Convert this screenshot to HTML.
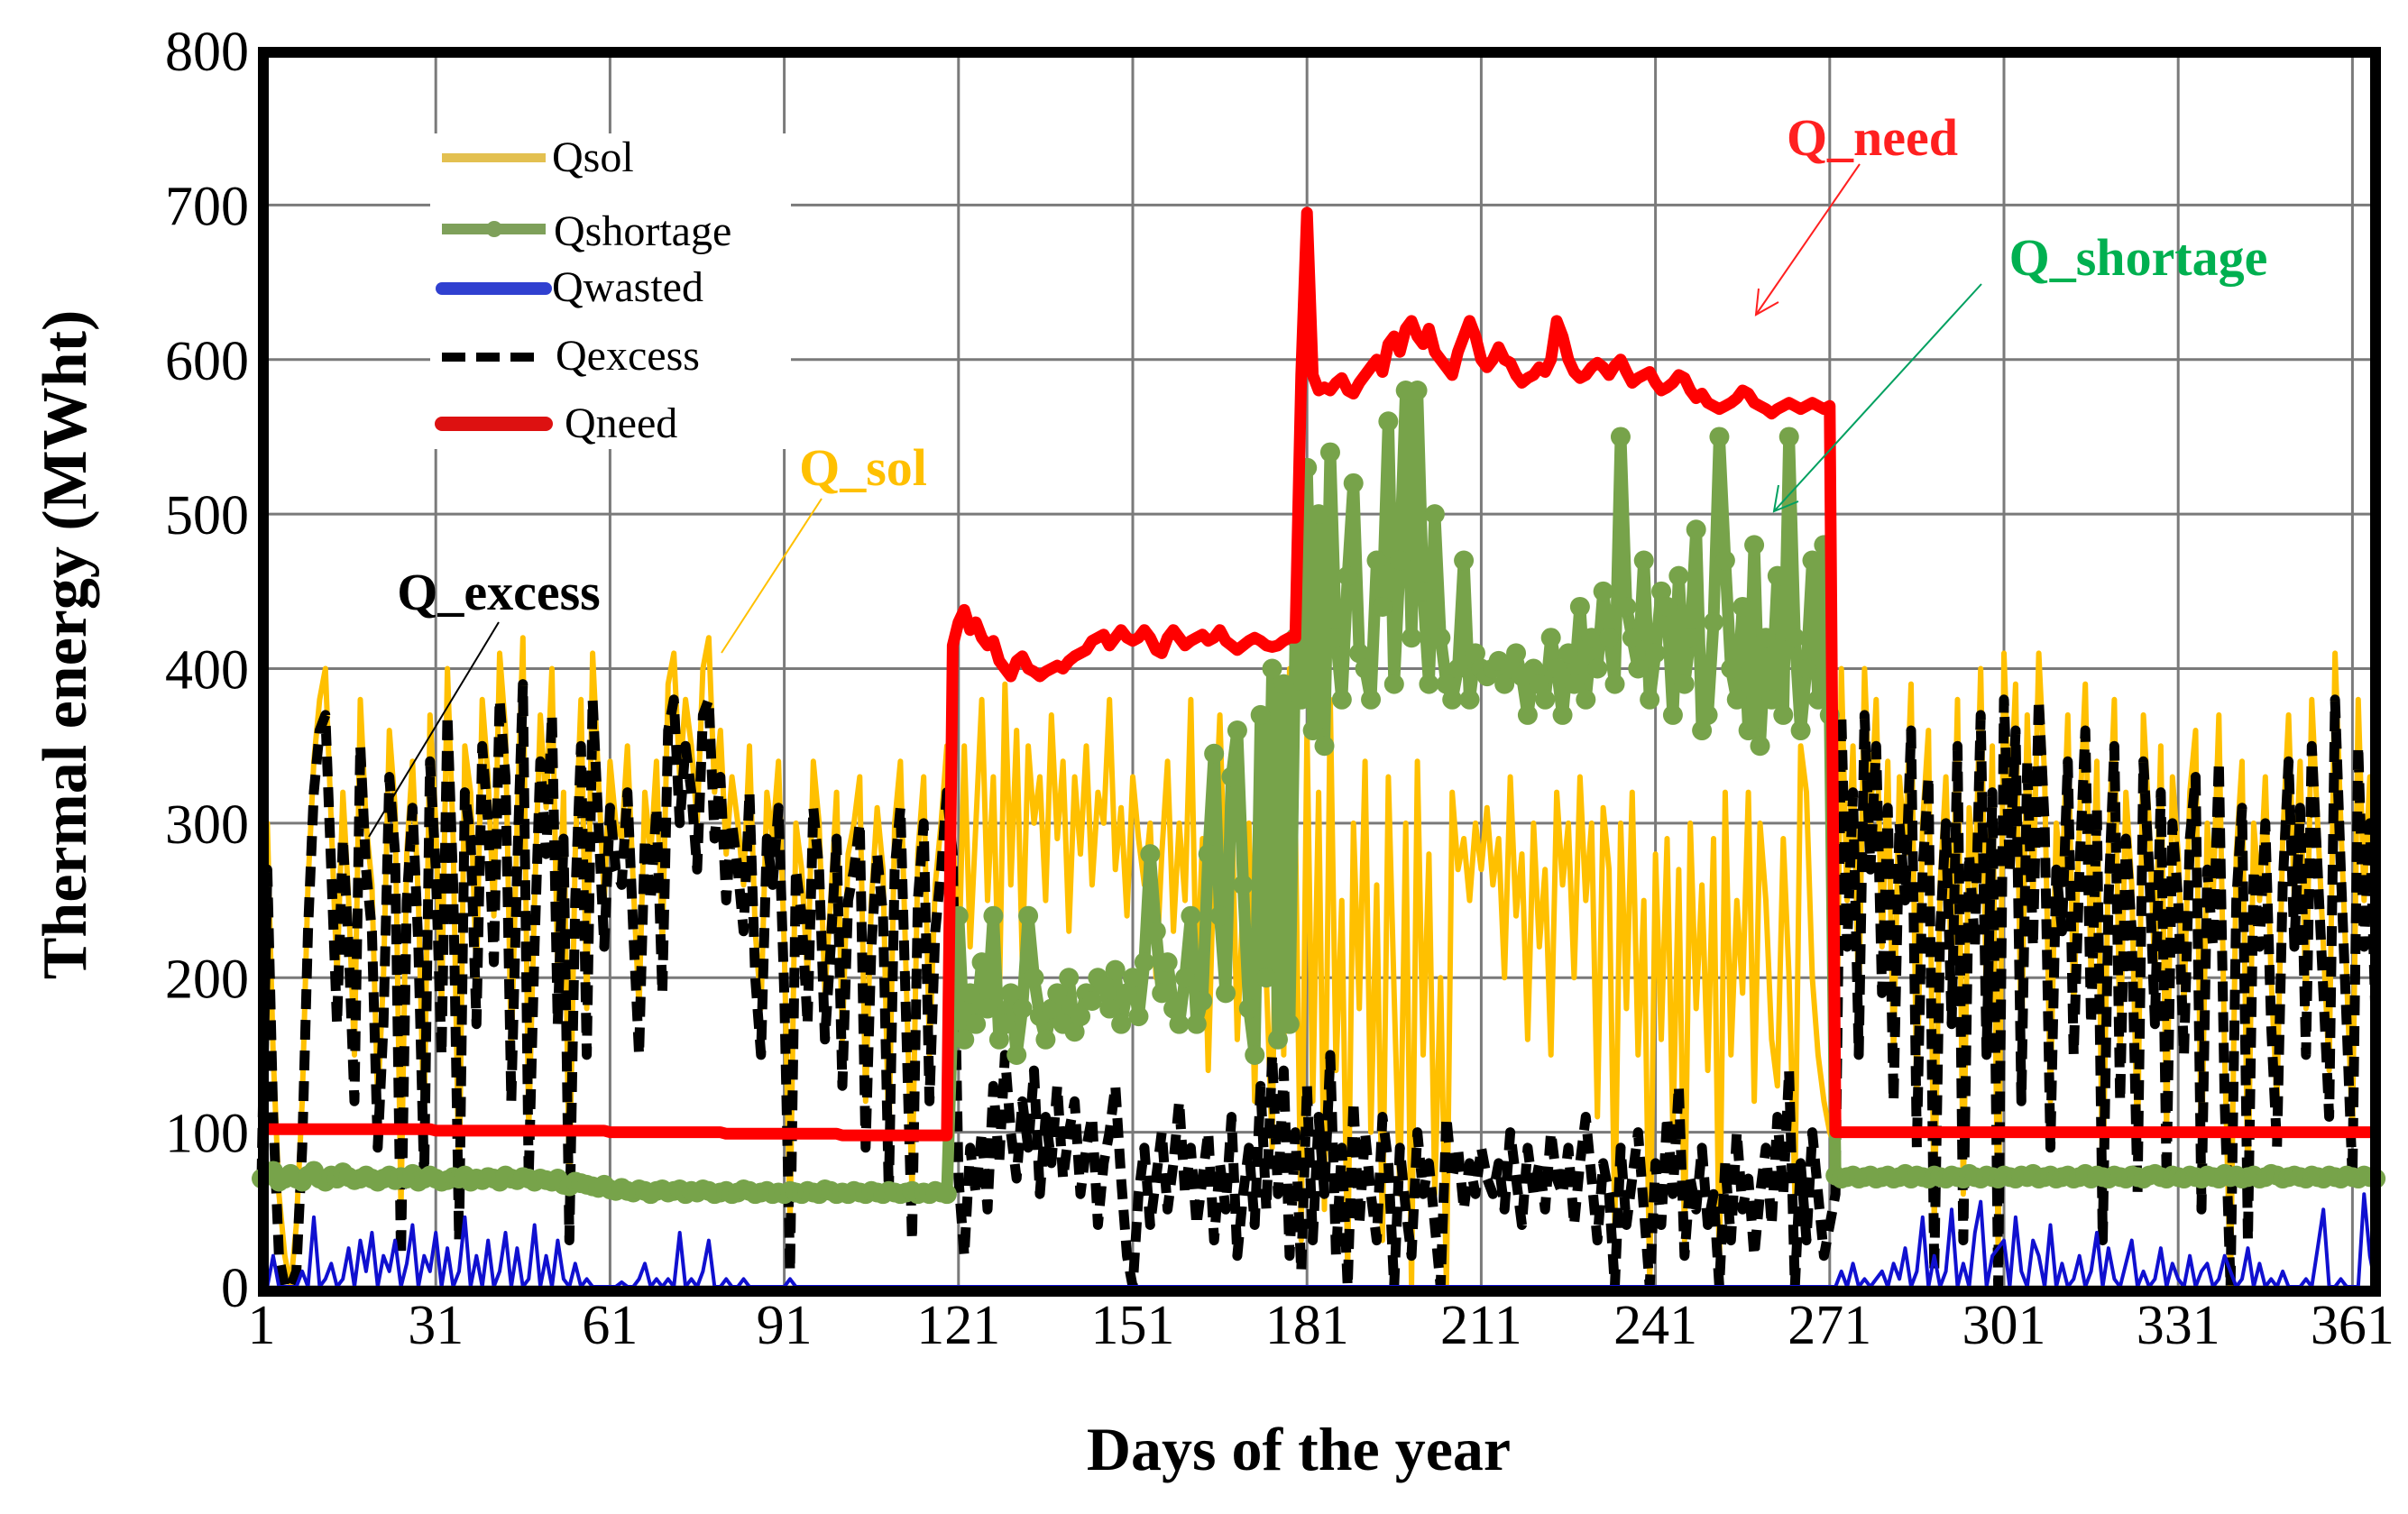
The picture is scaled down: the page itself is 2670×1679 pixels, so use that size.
<!DOCTYPE html>
<html><head><meta charset="utf-8">
<style>
html,body{margin:0;padding:0;background:#fff;}
svg{display:block;font-family:"Liberation Serif",serif;}
</style></head>
<body>
<svg id="chart" width="2670" height="1679" viewBox="0 0 2670 1679" xmlns="http://www.w3.org/2000/svg">
<rect x="0" y="0" width="2670" height="1679" fill="#fff"/>
<g id="grid"></g>
<g id="series"></g>
<rect x="292" y="58" width="2342" height="1374" fill="none" stroke="#000" stroke-width="12"/>
<g id="ticks" font-size="62" fill="#000"></g>
<text transform="translate(95,715) rotate(-90)" text-anchor="middle" font-size="70" font-weight="bold">Thermal energy (MWht)</text>
<text x="1440" y="1630" text-anchor="middle" font-size="68" font-weight="bold">Days of the year</text>

<g>
<rect x="477" y="148" width="400" height="350" fill="#fff"/>
<g><line x1="490" y1="175" x2="605" y2="175" stroke="#e3c050" stroke-width="10"/><text x="612" y="190" font-size="48">Qsol</text></g>
<g><line x1="490" y1="254" x2="605" y2="254" stroke="#7ea05a" stroke-width="12"/><circle cx="548" cy="254" r="9" fill="#7ea05a"/><text x="614" y="272" font-size="48">Qshortage</text></g>
<g><line x1="490" y1="320" x2="605" y2="320" stroke="#3040d0" stroke-width="14" stroke-linecap="round"/><text x="612" y="334" font-size="48">Qwasted</text></g>
<g><line x1="490" y1="396" x2="600" y2="396" stroke="#000" stroke-width="10" stroke-dasharray="26,12"/><text x="616" y="410" font-size="48">Qexcess</text></g>
<g><line x1="490" y1="470" x2="605" y2="470" stroke="#dd1111" stroke-width="16" stroke-linecap="round"/><text x="626" y="485" font-size="48">Qneed</text></g>
</g>

<g font-weight="bold">
<text x="2076" y="172" text-anchor="middle" font-size="58" fill="#ff2020">Q_need</text>
<line x1="2062" y1="182" x2="1947" y2="349" stroke="#ff2020" stroke-width="2"/>
<polyline points="1950,320 1947,349 1972,335" fill="none" stroke="#ff2020" stroke-width="2"/>
<text x="2371" y="305" text-anchor="middle" font-size="58" fill="#00b050">Q_shortage</text>
<line x1="2197" y1="315" x2="1967" y2="567" stroke="#00a060" stroke-width="2"/>
<polyline points="1972,538 1967,567 1994,556" fill="none" stroke="#00a060" stroke-width="2"/>
<text x="957" y="538" text-anchor="middle" font-size="58" fill="#ffc000">Q_sol</text>
<line x1="911" y1="553" x2="800" y2="724" stroke="#ffc000" stroke-width="2"/>
<text x="553" y="676" text-anchor="middle" font-size="58" fill="#000">Q_excess</text>
<line x1="553" y1="690" x2="409" y2="928" stroke="#000" stroke-width="2"/>
</g>
</svg>
<script>
const xTicks = [1,31,61,91,121,151,181,211,241,271,301,331,361];
const yTicks = [0,100,200,300,400,500,600,700,800];
const qSol = [
100,300,150,60,20,0,40,120,260,340,
380,400,300,200,320,250,150,380,300,260,
120,200,360,310,50,280,340,250,100,370,
300,180,400,290,60,350,320,200,380,330,
240,410,360,150,300,420,100,250,370,310,
400,200,320,60,280,380,180,410,330,250,
340,300,290,350,260,180,320,280,340,220,
390,410,330,380,350,300,400,420,320,360,
280,330,300,260,350,230,180,320,290,340,
220,40,300,270,200,340,300,190,250,320,
160,280,300,330,120,250,310,270,90,300,
340,200,60,280,330,150,260,300,350,300,
200,350,220,300,380,250,330,180,390,260,
360,210,350,300,330,250,370,290,340,230,
330,280,350,260,320,300,380,270,310,240,
330,290,260,300,200,280,340,230,300,250,
380,190,290,140,280,370,240,320,160,250,
300,120,340,200,90,380,150,400,300,30,
360,120,320,50,380,140,250,10,300,180,
340,100,260,30,330,190,60,300,0,340,
150,280,60,200,0,320,270,290,250,300,
270,310,260,290,200,330,240,280,160,300,
220,270,150,320,260,300,200,330,250,300,
110,310,270,40,300,180,320,150,250,0,
280,160,290,100,270,30,300,180,260,140,
290,10,320,150,250,190,320,120,300,250,
160,130,290,200,60,350,320,200,150,120,
100,90,400,250,350,180,400,300,380,220,
340,150,330,280,390,120,300,360,40,260,
330,200,380,60,310,250,400,180,350,20,
410,300,390,150,370,250,410,330,120,300,
260,370,180,300,390,200,340,60,280,380,
150,320,260,90,370,300,200,350,100,330,
280,180,320,360,80,300,250,370,150,0,
280,340,60,300,250,330,200,120,290,370,
250,340,180,380,300,220,140,410,300,200,
100,380,250,330,200];
const qExcess = [
70,270,110,20,0,0,10,90,230,320,
360,370,270,170,290,220,120,350,270,230,
90,170,330,280,20,250,310,220,70,340,
270,150,370,260,30,320,290,170,350,300,
210,380,330,120,270,390,70,220,340,280,
370,170,290,30,250,350,150,380,300,220,
310,270,260,320,230,150,290,250,310,190,
360,380,300,350,320,270,370,380,290,330,
250,300,270,230,320,200,150,290,260,310,
190,10,270,240,170,310,270,160,220,290,
130,250,270,300,90,220,280,240,60,270,
310,170,30,250,300,120,230,270,320,280,
70,20,90,60,100,50,130,80,150,100,
70,120,90,140,60,110,80,130,70,100,
120,60,90,110,40,80,100,130,70,20,
0,60,90,40,70,100,50,80,120,60,
90,40,70,100,30,80,50,110,20,60,
90,40,130,50,150,60,140,20,100,10,
130,30,110,60,150,20,90,0,120,40,
100,60,30,110,80,0,90,50,20,100,
60,80,40,0,110,70,90,50,80,60,
90,70,60,80,50,100,70,40,90,60,
80,50,100,70,60,90,40,80,110,70,
30,80,60,0,90,40,70,100,50,0,
80,40,110,60,130,20,70,50,90,40,
60,0,80,30,100,50,70,20,60,90,
40,110,60,140,0,80,30,100,60,20,
40,60,370,220,320,150,370,270,350,190,
310,120,300,250,360,90,270,330,10,230,
300,170,350,30,280,220,370,150,320,0,
380,270,360,120,340,220,380,300,90,270,
230,340,150,270,360,170,310,30,250,350,
120,290,230,60,340,270,170,320,70,300,
250,150,290,330,50,270,220,340,120,0,
250,310,30,270,220,300,170,90,260,340,
220,310,150,350,270,190,110,380,270,170,
70,350,220,300,170];
const qShortage = [
70,72,75,68,70,73,70,68,72,75,
70,68,72,70,74,71,69,70,72,70,
68,70,72,69,71,70,73,68,70,72,
70,68,69,71,70,72,68,70,69,71,
70,68,72,70,69,71,70,68,70,69,
68,70,66,65,68,67,66,65,64,66,
63,62,64,62,61,63,62,60,62,63,
61,62,63,60,62,61,63,62,60,61,
62,60,61,63,62,60,61,62,60,61,
60,62,61,60,62,61,60,63,62,60,
61,60,62,61,60,62,61,60,62,61,
60,61,62,60,61,60,62,61,60,180,
240,160,190,170,210,180,240,160,170,190,
150,180,240,200,175,160,180,190,170,200,
165,175,190,185,200,195,180,205,170,190,
200,175,210,280,230,190,210,180,170,200,
240,170,185,280,345,240,190,330,360,260,
180,150,370,200,400,160,390,170,420,380,
530,360,500,350,540,420,380,460,520,410,
400,380,470,440,560,390,470,580,420,580,
450,390,500,420,390,380,400,470,380,410,
400,395,400,405,390,400,410,395,370,400,
390,380,420,400,370,410,390,440,380,420,
400,450,420,390,550,440,420,400,470,380,
410,450,440,370,460,390,420,490,360,370,
430,550,470,400,380,440,360,480,350,420,
380,460,370,550,420,360,400,470,380,480,
370,72,70,71,72,70,71,72,70,71,
72,70,71,73,70,72,71,70,72,71,
70,72,71,70,73,71,70,72,71,70,
72,71,70,72,71,73,70,71,72,70,
71,72,70,71,73,70,72,71,70,72,
71,70,72,71,70,72,73,71,70,72,
71,70,72,71,70,72,71,70,73,71,
72,70,71,72,70,71,73,72,70,71,
72,71,70,72,71,70,72,71,70,72,
71,70,72,71,70];
const qWasted = [
0,0,20,0,0,0,0,10,0,45,
0,5,15,0,5,25,0,30,10,35,
0,20,10,30,0,15,40,0,20,10,
35,0,25,0,10,45,0,20,0,30,
0,10,35,0,25,0,5,40,0,20,
0,30,5,0,15,0,5,0,0,0,
0,0,3,0,0,5,15,0,5,0,
5,0,35,0,5,0,10,30,0,0,
5,0,0,5,0,0,0,0,0,0,
0,5,0,0,0,0,0,0,0,0,
0,0,0,0,0,0,0,0,0,0,
0,0,0,0,0,0,0,0,0,0,
0,0,0,0,0,0,0,0,0,0,
0,0,0,0,0,0,0,0,0,0,
0,0,0,0,0,0,0,0,0,0,
0,0,0,0,0,0,0,0,0,0,
0,0,0,0,0,0,0,0,0,0,
0,0,0,0,0,0,0,0,0,0,
0,0,0,0,0,0,0,0,0,0,
0,0,0,0,0,0,0,0,0,0,
0,0,0,0,0,0,0,0,0,0,
0,0,0,0,0,0,0,0,0,0,
0,0,0,0,0,0,0,0,0,0,
0,0,0,0,0,0,0,0,0,0,
0,0,0,0,0,0,0,0,0,0,
0,0,0,0,0,0,0,0,0,0,
0,0,0,0,0,0,0,0,0,0,
0,0,10,0,15,0,5,0,5,10,
0,15,5,25,0,10,45,0,20,0,
10,50,0,15,0,35,55,0,20,25,
30,0,45,10,0,30,20,0,40,0,
15,0,5,20,0,10,35,0,25,5,
0,15,30,0,10,0,5,25,0,15,
5,0,20,0,10,15,0,5,20,10,
0,5,25,0,15,0,5,0,10,0,
0,0,5,0,25,50,0,0,5,0,
0,0,60,20,0];
const qNeed = [
102,102,102,102,102,102,102,102,102,102,
102,102,102,102,102,102,102,102,102,102,
102,102,102,102,102,102,102,102,102,102,
101,101,101,101,101,101,101,101,101,101,
101,101,101,101,101,101,101,101,101,101,
101,101,101,101,101,101,101,101,101,101,
100,100,100,100,100,100,100,100,100,100,
100,100,100,100,100,100,100,100,100,100,
99,99,99,99,99,99,99,99,99,99,
99,99,99,99,99,99,99,99,99,99,
98,98,98,98,98,98,98,98,98,98,
98,98,98,98,98,98,98,98,98,415,
430,438,425,430,420,415,418,405,400,395,
405,408,400,398,395,398,400,402,400,405,
408,410,412,418,420,422,415,420,425,420,
418,420,425,420,412,410,420,425,420,415,
418,420,422,418,420,425,418,415,412,415,
418,420,418,415,414,415,418,420,420,590,
695,590,580,582,580,585,588,580,578,585,
590,595,600,592,610,615,605,620,625,615,
610,620,605,600,595,590,605,615,625,615,
600,595,600,608,600,598,590,585,588,590,
595,592,600,625,615,600,592,588,590,595,
598,595,590,596,600,592,585,588,590,592,
585,580,582,585,590,588,580,575,578,572,
570,568,570,572,575,580,578,572,570,568,
565,568,570,572,570,568,570,572,570,568,
570,100,100,100,100,100,100,100,100,100,
100,100,100,100,100,100,100,100,100,100,
100,100,100,100,100,100,100,100,100,100,
100,100,100,100,100,100,100,100,100,100,
100,100,100,100,100,100,100,100,100,100,
100,100,100,100,100,100,100,100,100,100,
100,100,100,100,100,100,100,100,100,100,
100,100,100,100,100,100,100,100,100,100,
100,100,100,100,100,100,100,100,100,100,
100,100,100,100,100];

const NS = "http://www.w3.org/2000/svg";
const X0 = 290, DX = 6.44, Y0 = 1427, YS = 1371/800;
function xScale(d){ return X0 + (d-1)*DX; }
function yScale(v){ return Y0 - v*YS; }
function mk(tag, attrs, parent){
  const e = document.createElementNS(NS, tag);
  for (const k in attrs) e.setAttribute(k, attrs[k]);
  parent.appendChild(e);
  return e;
}
const grid = document.getElementById('grid');
const ticks = document.getElementById('ticks');
const series = document.getElementById('series');

yTicks.forEach(v => {
  const y = yScale(v);
  const gl = mk('line', {x1:292, x2:2634, y1:y, y2:y, stroke:'#7a7a7a', 'stroke-width':3}, grid);
  
  
  const t = mk('text', {x:276, y:y+22, 'text-anchor':'end'}, ticks);
  
  
  t.textContent = v;
});
xTicks.forEach(d => {
  const x = xScale(d);
  const gl = mk('line', {x1:x, x2:x, y1:58, y2:1427, stroke:'#7a7a7a', 'stroke-width':3}, grid);
  
  
  const t = mk('text', {x:x, y:1490, 'text-anchor':'middle'}, ticks);
  
  
  t.textContent = d;
});

function pts(arr){ return arr.map((v,i) => xScale(i+1).toFixed(1)+','+yScale(v).toFixed(1)).join(' '); }

const sol = mk('polyline', {points:pts(qSol), fill:'none', stroke:'#ffc000', 'stroke-width':6, 'stroke-linejoin':'round'}, series);



const exc = mk('polyline', {points:pts(qExcess), fill:'none', stroke:'#000', 'stroke-width':11, 'stroke-dasharray':'22,12', 'stroke-linejoin':'round'}, series);



const sh = mk('polyline', {points:pts(qShortage), fill:'none', stroke:'#77a34a', 'stroke-width':13, 'stroke-linejoin':'round'}, series);


qShortage.forEach((v,i) => {
  const c = mk('circle', {cx:xScale(i+1), cy:yScale(v), r:11, fill:'#77a34a'}, series);
  
  
});

const ws = mk('polyline', {points:pts(qWasted), fill:'none', stroke:'#1010d0', 'stroke-width':4, 'stroke-linejoin':'round'}, series);



const nd = mk('polyline', {points:pts(qNeed), fill:'none', stroke:'#ff0000', 'stroke-width':13, 'stroke-linejoin':'round'}, series);


</script>
</body></html>
